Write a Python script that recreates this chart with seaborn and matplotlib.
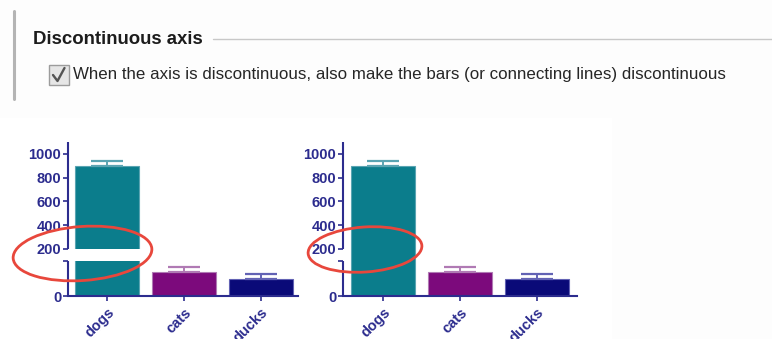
import numpy as np
import pandas as pd
import matplotlib
matplotlib.use("Agg")
import matplotlib.pyplot as plt
import seaborn as sns
from matplotlib.patches import Ellipse, Rectangle

# ------------------------------------------------------------------
# data
# ------------------------------------------------------------------
animals = ["dogs", "cats", "ducks"]
means = [900, 103, 73]
sd_up = [42, 21, 21]
bar_colors = ["#0b7d8c", "#7c0a7c", "#0a0a78"]
err_colors = ["#5aa4b2", "#b07ab4", "#6262b4"]
y_ticks = [0, 200, 400, 600, 800, 1000]
brk_lo, brk_hi = 150, 200      # the axis is cut between these two values
y_top = 1100

heading = "Discontinuous axis"
option_text = ("When the axis is discontinuous, also make the bars "
               "(or connecting lines) discontinuous")

df = pd.DataFrame({"animal": animals, "mean": means})

navy = "#2c2c8e"

sns.set_style("white")
plt.rcParams["font.family"] = ["Liberation Sans", "DejaVu Sans"]

# piecewise scale: lower part 0-150, small gap, upper part 200-1100
lo_h, gap_h, up_h = 35.0, 12.0, 107.0
k_lo = lo_h / brk_lo
k_up = up_h / (y_top - brk_hi)
seg_v = [-1000, 0, brk_lo, brk_hi, y_top, 5000]
seg_p = [-1000 * k_lo, 0, lo_h, lo_h + gap_h, lo_h + gap_h + up_h,
         lo_h + gap_h + up_h + (5000 - y_top) * k_up]


def fwd(v):
    return np.interp(v, seg_v, seg_p)


def inv(p):
    return np.interp(p, seg_p, seg_v)


def draw_chart(ax, split_bars, xlim):
    sns.barplot(data=df, x="animal", y="mean", hue="animal",
                palette=bar_colors, width=0.82, saturation=1,
                legend=False, ax=ax, zorder=2)
    for patch, c in zip(ax.patches, err_colors):
        patch.set_edgecolor(c)
        patch.set_linewidth(0.8)
    for i, (m, e, c) in enumerate(zip(means, sd_up, err_colors)):
        ax.errorbar(i, m, yerr=[[0], [e]], color=c, capsize=11.2,
                    elinewidth=1.4, capthick=1.6, zorder=4)

    ax.set_yscale("function", functions=(fwd, inv))
    ax.set_ylim(0, y_top)
    ax.set_xlim(*xlim)
    ax.set_facecolor("white")

    if split_bars:
        ax.axhspan(brk_lo, brk_hi, color="white", lw=0, zorder=3)

    for s in ["top", "right", "left"]:
        ax.spines[s].set_visible(False)
    ax.spines["bottom"].set_color(navy)
    ax.spines["bottom"].set_linewidth(1.5)

    # y axis in two pieces
    yax = ax.get_yaxis_transform()
    ax.plot([0, 0], [0, brk_lo], transform=yax, color=navy, lw=1.5,
            clip_on=False, zorder=6, solid_capstyle="butt")
    ax.plot([0, 0], [brk_hi, y_top], transform=yax, color=navy, lw=1.5,
            clip_on=False, zorder=6, solid_capstyle="butt")

    ax.set_yticks(y_ticks)
    ax.set_yticks([brk_lo], minor=True)
    ax.tick_params(axis="y", which="both", direction="out", length=3.6,
                   width=1.2, color=navy, labelcolor=navy, pad=1.2,
                   labelsize=10.5, left=True)
    ax.tick_params(axis="x", direction="out", length=3.6, width=1.2,
                   color=navy, labelcolor=navy, pad=3, labelsize=10.5,
                   bottom=True)
    for lbl in ax.get_yticklabels():
        lbl.set_fontweight("bold")
    ax.set_xticks(range(len(animals)))
    ax.set_xticklabels(animals, rotation=45, ha="right",
                       rotation_mode="anchor", fontweight="bold")
    ax.set_xlabel("")
    ax.set_ylabel("")


fig = plt.figure(figsize=(7.72, 3.39), dpi=100)
fig.patch.set_facecolor("#fdfdfd")

# dialog part (pixel coordinates)
bg = fig.add_axes([0, 0, 1, 1], zorder=0)
bg.set_xlim(0, 772)
bg.set_ylim(339, 0)
bg.axis("off")
bg.add_patch(Rectangle((0, 118), 612, 221, color="white", lw=0))
bg.plot([14, 14], [11, 99], color="#b4b4b4", lw=2.2)
bg.text(33, 40, heading, fontsize=13.4, fontweight="bold",
        va="center", ha="left", color="#1c1c1c")
bg.plot([213, 772], [39, 39], color="#c8c8c8", lw=1)
bg.add_patch(Rectangle((48.5, 64.5), 20, 20, fc="#e6e6e6", ec="#9c9c9c", lw=1))
bg.plot([53, 57.5, 64.5], [75, 81, 68], color="#555555", lw=1.7)
bg.text(73, 75, option_text, fontsize=12.15, va="center", ha="left",
        color="#262626")

ax1 = fig.add_axes([68 / 772, 43 / 339, 230 / 772, 154 / 339], zorder=2)
ax2 = fig.add_axes([343 / 772, 43 / 339, 234 / 772, 154 / 339], zorder=2)
draw_chart(ax1, True, (-0.506, 2.48))
draw_chart(ax2, False, (-0.52, 2.52))

# red circles marking the break
fg = fig.add_axes([0, 0, 1, 1], zorder=5)
fg.set_xlim(0, 772)
fg.set_ylim(339, 0)
fg.axis("off")
fg.add_patch(Ellipse((82.5, 253.5), 139, 54, angle=-4, fill=False,
                     ec="#e8473c", lw=2))
fg.add_patch(Ellipse((365, 249.5), 114, 45, angle=-4, fill=False,
                     ec="#e8473c", lw=2))

fig.savefig("out.png", dpi=100)
